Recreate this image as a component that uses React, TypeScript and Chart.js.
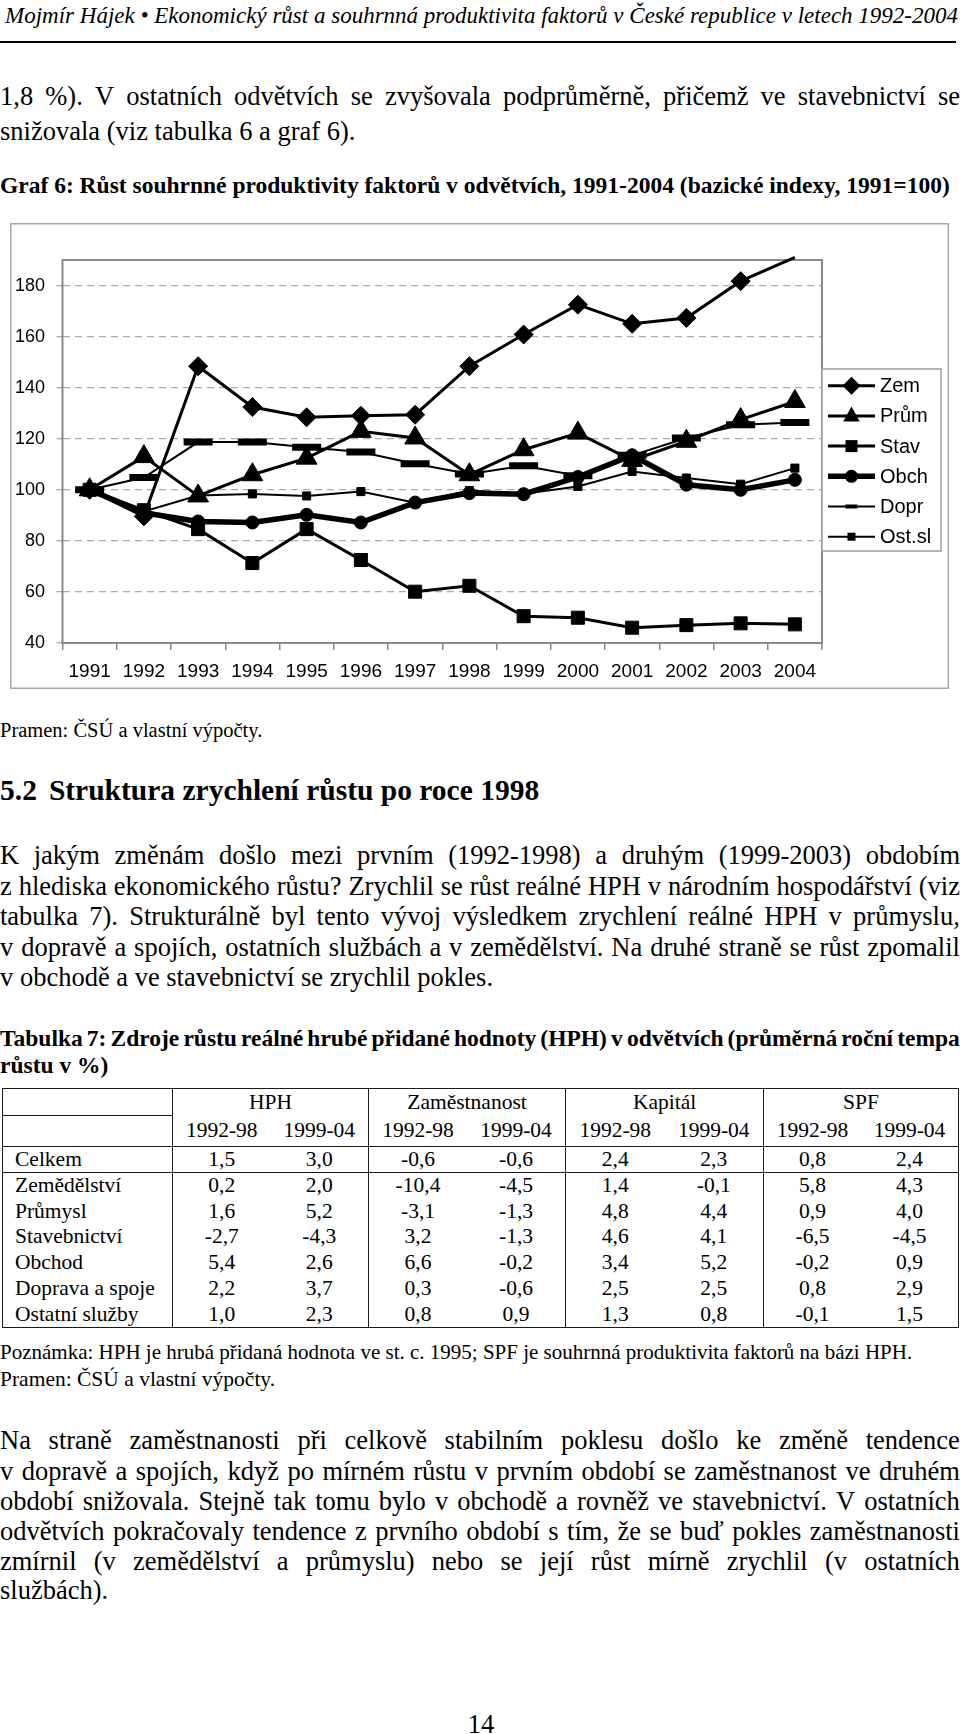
import React, { useEffect, useRef } from "react";
import { Chart, registerables } from "chart.js";

Chart.register(...registerables);

// ---------------- chart data ----------------
const YEARS = ["1991", "1992", "1993", "1994", "1995", "1996", "1997", "1998", "1999", "2000", "2001", "2002", "2003", "2004"];
const ZEM = [100, 89.6, 148.4, 132.4, 128.4, 129, 129.4, 148.4, 160.8, 172.5, 165, 167.3, 181.7, 191];
const PRUM = [100, 113, 97.6, 105.9, 112.4, 122.9, 120.3, 105.9, 115.7, 122.2, 111.5, 119, 127.5, 134.6];
const STAV = [100, 92, 84.6, 71.3, 84.6, 72.5, 60.1, 62.4, 50.5, 49.9, 46, 47, 47.7, 47.3];
const OBCH = [100, 91, 87.6, 87.2, 90.2, 87.2, 95, 98.7, 98.3, 105, 113.5, 102, 100, 103.9];
const DOPR = [100, 104.8, 118.7, 118.7, 116.7, 114.8, 110.2, 106.2, 109.4, 105.5, 113.5, 120.3, 125.5, 126.4];
const OSTSL = [100, 91.5, 97.8, 98.4, 97.6, 99.3, 94.9, 99.7, 98.5, 101.3, 107.2, 104.6, 102.2, 108.5];
const SERIES_NAMES = ["Zem", "Prům", "Stav", "Obch", "Dopr", "Ost.sl"];
const Y_TICKS = [40, 60, 80, 100, 120, 140, 160, 180];
const Y_MIN = 40;
const Y_MAX = 190;

// ---------------- table data ----------------
const TABLE_GROUPS = ["HPH", "Zaměstnanost", "Kapitál", "SPF"];
const TABLE_PERIODS = ["1992-98", "1999-04"];
const ROW_LABELS = ["Celkem", "Zemědělství", "Průmysl", "Stavebnictví", "Obchod", "Doprava a spoje", "Ostatní služby"];
const ROW_CELKEM = ["1,5", "3,0", "-0,6", "-0,6", "2,4", "2,3", "0,8", "2,4"];
const ROW_ZEMED = ["0,2", "2,0", "-10,4", "-4,5", "1,4", "-0,1", "5,8", "4,3"];
const ROW_PRUM = ["1,6", "5,2", "-3,1", "-1,3", "4,8", "4,4", "0,9", "4,0"];
const ROW_STAV = ["-2,7", "-4,3", "3,2", "-1,3", "4,6", "4,1", "-6,5", "-4,5"];
const ROW_OBCH = ["5,4", "2,6", "6,6", "-0,2", "3,4", "5,2", "-0,2", "0,9"];
const ROW_DOPR = ["2,2", "3,7", "0,3", "-0,6", "2,5", "2,5", "0,8", "2,9"];
const ROW_OST = ["1,0", "2,3", "0,8", "0,9", "1,3", "0,8", "-0,1", "1,5"];
const TABLE_ROWS = [ROW_CELKEM, ROW_ZEMED, ROW_PRUM, ROW_STAV, ROW_OBCH, ROW_DOPR, ROW_OST];

const SANS = '"Liberation Sans", Arial, Helvetica, sans-serif';
const SERIF = '"Liberation Serif", "Times New Roman", Times, serif';

type Marker = { style: string; size: number; lw: number };
const LEGEND_MARKERS: Marker[] = [
  { style: "rectRot", size: 9, lw: 3 },
  { style: "triangle", size: 9.5, lw: 3 },
  { style: "rect", size: 6, lw: 3 },
  { style: "circle", size: 6.5, lw: 5.5 },
  { style: "line", size: 6, lw: 2 },
  { style: "rect", size: 4, lw: 2 },
];

function drawLegendMarker(ctx: CanvasRenderingContext2D, m: Marker, x: number, y: number) {
  ctx.fillStyle = "#000";
  ctx.beginPath();
  const s = m.size;
  if (m.style === "rectRot") {
    ctx.moveTo(x - s, y); ctx.lineTo(x, y - s); ctx.lineTo(x + s, y); ctx.lineTo(x, y + s); ctx.closePath(); ctx.fill();
  } else if (m.style === "triangle") {
    ctx.moveTo(x, y - s); ctx.lineTo(x + s * 0.87, y + s * 0.6); ctx.lineTo(x - s * 0.87, y + s * 0.6); ctx.closePath(); ctx.fill();
  } else if (m.style === "rect") {
    ctx.rect(x - s, y - s, 2 * s, 2 * s); ctx.fill();
  } else if (m.style === "circle") {
    ctx.arc(x, y, s, 0, Math.PI * 2); ctx.fill();
  } else if (m.style === "line") {
    ctx.rect(x - s, y - 2, 2 * s, 4); ctx.fill();
  }
}

const framePlugin = {
  id: "frameAndLegend",
  beforeDraw(chart: any) {
    const { ctx, width, height } = chart;
    ctx.save();
    ctx.fillStyle = "#fff";
    ctx.fillRect(0, 0, width, height);
    ctx.restore();
  },
  beforeDatasetsDraw(chart: any) {
    const { ctx, chartArea: a } = chart;
    ctx.save();
    ctx.strokeStyle = "#8a8a8a";
    ctx.lineWidth = 2;
    ctx.strokeRect(a.left, a.top, a.right - a.left, a.bottom - a.top);
    ctx.restore();
  },
  afterDraw(chart: any) {
    const { ctx, width, height, chartArea: a } = chart;
    ctx.save();
    ctx.strokeStyle = "#a8a8a8";
    ctx.lineWidth = 1.5;
    ctx.strokeRect(0.75, 0.75, width - 1.5, height - 1.5);
    // legend
    const lx = a.right, ly = 146, lw = 119, lh = 182;
    ctx.fillStyle = "#fff";
    ctx.fillRect(lx, ly, lw, lh);
    ctx.strokeStyle = "#a0a0a0";
    ctx.lineWidth = 1.5;
    ctx.strokeRect(lx, ly, lw, lh);
    ctx.font = `20px ${SANS}`;
    ctx.textBaseline = "middle";
    ctx.textAlign = "left";
    SERIES_NAMES.forEach((name, i) => {
      const y = ly + 16.7 + i * 30.2;
      const m = LEGEND_MARKERS[i];
      ctx.strokeStyle = "#000";
      ctx.lineWidth = m.lw;
      ctx.beginPath();
      ctx.moveTo(lx + 6, y);
      ctx.lineTo(lx + 53, y);
      ctx.stroke();
      drawLegendMarker(ctx, m, lx + 29.5, y);
      ctx.fillStyle = "#000";
      ctx.fillText(name, lx + 58, y + 1);
    });
    ctx.restore();
  },
};

function hideOutOfRange(r: number) {
  return (c: any) => (c.raw > Y_MAX || c.raw < Y_MIN ? 0 : r);
}

function ChartBox() {
  const ref = useRef<HTMLCanvasElement>(null);
  useEffect(() => {
    const common = { borderColor: "#000", backgroundColor: "#000", pointBackgroundColor: "#000", pointBorderColor: "#000", tension: 0, fill: false, clip: 4 };
    const chart = new Chart(ref.current as HTMLCanvasElement, {
      type: "line",
      data: {
        labels: YEARS,
        datasets: [
          { ...common, label: SERIES_NAMES[0], data: ZEM, borderWidth: 3, pointStyle: "rectRot", pointRadius: hideOutOfRange(9.5), pointBorderWidth: 1 },
          { ...common, label: SERIES_NAMES[1], data: PRUM, borderWidth: 3, pointStyle: "triangle", pointRadius: hideOutOfRange(12), pointBorderWidth: 1 },
          { ...common, label: SERIES_NAMES[2], data: STAV, borderWidth: 3, pointStyle: "rect", pointRadius: hideOutOfRange(9.2), pointBorderWidth: 1 },
          { ...common, label: SERIES_NAMES[3], data: OBCH, borderWidth: 5.5, pointStyle: "circle", pointRadius: hideOutOfRange(6.5), pointBorderWidth: 1 },
          { ...common, label: SERIES_NAMES[4], data: DOPR, borderWidth: 2, pointStyle: "line", pointRadius: hideOutOfRange(14.5), pointBorderWidth: 7 },
          { ...common, label: SERIES_NAMES[5], data: OSTSL, borderWidth: 2, pointStyle: "rect", pointRadius: hideOutOfRange(5.7), pointBorderWidth: 1 },
        ] as any,
      },
      options: {
        animation: false,
        responsive: false,
        devicePixelRatio: 1,
        events: [],
        layout: { padding: { left: 0, top: 37, right: 127, bottom: 0 }, autoPadding: false } as any,
        plugins: { legend: { display: false }, tooltip: { enabled: false }, title: { display: false } },
        scales: {
          x: {
            type: "category",
            offset: true,
            grid: { offset: true, drawOnChartArea: false, drawTicks: true, tickLength: 7, color: "#8a8a8a", lineWidth: 1.5 },
            border: { display: false },
            ticks: { autoSkip: false, maxRotation: 0, minRotation: 0, padding: 10.5, color: "#000", font: { family: SANS, size: 19 } },
            afterFit: (s: any) => { s.height = 46; },
          },
          y: {
            type: "linear",
            min: Y_MIN,
            max: Y_MAX,
            grid: { color: "#ababab", lineWidth: 1.3, tickLength: 6, drawTicks: true, tickColor: "#ababab" },
            border: { display: false, dash: [7, 5] },
            ticks: { padding: 11.5, color: "#000", font: { family: SANS, size: 18 } },
            afterBuildTicks: (s: any) => { s.ticks = Y_TICKS.map((v) => ({ value: v })); },
            afterFit: (s: any) => { s.width = 52.5; },
          },
        },
      } as any,
      plugins: [framePlugin],
    });
    return () => chart.destroy();
  }, []);
  return <canvas ref={ref} width={939} height={466} style={{ position: "absolute", left: 10, top: 223, width: 939, height: 466 }} />;
}

// --------------- text helpers ---------------
type LineProps = { y: number; size: number; bold?: boolean; italic?: boolean; justify?: boolean; left?: number; width?: number; align?: "left" | "right" | "center"; text: string };

function TextLine({ y, size, bold, italic, justify, left = 0, width = 960, align = "left", text }: LineProps) {
  const h = Math.round(size * 1.3);
  const base: React.CSSProperties = {
    position: "absolute",
    left,
    top: y - h / 2,
    width,
    height: h,
    lineHeight: `${h}px`,
    fontSize: size,
    fontWeight: bold ? 700 : 400,
    fontStyle: italic ? "italic" : "normal",
    whiteSpace: "nowrap",
  };
  if (justify) {
    const words = text.split(" ");
    return (
      <div style={{ ...base, display: "flex", justifyContent: "space-between" }}>
        {words.map((w, i) => (
          <span key={i}>{w}</span>
        ))}
      </div>
    );
  }
  return <div style={{ ...base, textAlign: align }}>{text}</div>;
}

function Paragraph({ lines, ys, size }: { lines: string[]; ys: number[]; size: number }) {
  return (
    <>
      {lines.map((t, i) => (
        <TextLine key={i} y={ys[i]} size={size} text={t} justify={i < lines.length - 1} />
      ))}
    </>
  );
}

const BODY = 26.5;

const COL_W = [170, 98, 98, 98.5, 98.5, 99, 99, 97.5, 97.5];

function DataTable() {
  const bc = "#1a1a1a";
  const outer = `1.5px solid ${bc}`;
  const inner = `1px solid ${bc}`;
  const cell = (extra: React.CSSProperties = {}): React.CSSProperties => ({ padding: 0, textAlign: "center", verticalAlign: "middle", ...extra });
  const dataRowH = 25.8;
  return (
    <table
      style={{
        position: "absolute",
        left: 2,
        top: 1088,
        width: 956,
        borderCollapse: "collapse",
        tableLayout: "fixed",
        fontFamily: SERIF,
        fontSize: 21.5,
        border: outer,
      }}
    >
      <colgroup>
        {COL_W.map((w, i) => (
          <col key={i} style={{ width: w }} />
        ))}
      </colgroup>
      <tbody>
        <tr style={{ height: 27 }}>
          <td style={cell({ borderBottom: inner, borderRight: inner })}></td>
          {TABLE_GROUPS.map((g) => (
            <td key={g} colSpan={2} style={cell({ borderLeft: inner })}>{g}</td>
          ))}
        </tr>
        <tr style={{ height: 31 }}>
          <td style={cell({ borderRight: inner, borderBottom: inner })}></td>
          {TABLE_GROUPS.map((g) =>
            TABLE_PERIODS.map((p, pi) => (
              <td key={g + p} style={cell({ borderBottom: inner, borderLeft: pi === 0 ? inner : "none" })}>{p}</td>
            ))
          )}
        </tr>
        {TABLE_ROWS.map((row, ri) => (
          <tr key={ri} style={{ height: ri === 0 ? 22 : dataRowH }}>
            <td style={cell({ textAlign: "left", paddingLeft: 12, borderRight: inner, borderBottom: ri === 0 ? inner : "none" })}>{ROW_LABELS[ri]}</td>
            {row.map((v, ci) => (
              <td key={ci} style={cell({ borderLeft: ci % 2 === 0 ? inner : "none", borderBottom: ri === 0 ? inner : "none" })}>{v}</td>
            ))}
          </tr>
        ))}
      </tbody>
    </table>
  );
}

export default function App() {
  useEffect(() => {
    document.body.style.margin = "0";
    document.body.style.overflow = "hidden";
  }, []);
  return (
    <div style={{ position: "absolute", left: 0, top: 0, width: 960, height: 1734, overflow: "hidden", background: "#fff", color: "#000", fontFamily: SERIF }}>
      <TextLine y={16} size={23} italic left={0} width={958} align="right" text="Mojmír Hájek • Ekonomický růst a souhrnná produktivita faktorů v České republice v letech 1992-2004" />
      <div style={{ position: "absolute", left: 0, top: 41, width: 956, height: 2, background: "#000" }} />

      <Paragraph
        size={BODY}
        ys={[96, 131]}
        lines={["1,8 %). V ostatních odvětvích se zvyšovala podprůměrně, přičemž ve stavebnictví se", "snižovala (viz tabulka 6 a graf 6)."]}
      />

      <TextLine y={185} size={23.5} bold text="Graf 6: Růst souhrnné produktivity faktorů v odvětvích, 1991-2004 (bazické indexy, 1991=100)" />

      <ChartBox />

      <TextLine y={730} size={20.5} text="Pramen: ČSÚ a vlastní výpočty." />

      <div style={{ position: "absolute", left: 0, top: 790 - 19, height: 38, lineHeight: "38px", fontSize: 29.5, fontWeight: 700, whiteSpace: "nowrap" }}>
        <span style={{ marginRight: 12 }}>5.2</span>Struktura zrychlení růstu po roce 1998
      </div>

      <Paragraph
        size={BODY}
        ys={[855, 885.5, 916, 946.5, 977]}
        lines={[
          "K jakým změnám došlo mezi prvním (1992-1998) a druhým (1999-2003) obdobím",
          "z hlediska ekonomického růstu? Zrychlil se růst reálné HPH v národním hospodářství (viz",
          "tabulka 7). Strukturálně byl tento vývoj výsledkem zrychlení reálné HPH v průmyslu,",
          "v dopravě a spojích, ostatních službách a v zemědělství. Na druhé straně se růst zpomalil",
          "v obchodě a ve stavebnictví se zrychlil pokles.",
        ]}
      />

      <TextLine y={1038} size={23.5} bold justify text="Tabulka 7: Zdroje růstu reálné hrubé přidané hodnoty (HPH) v odvětvích (průměrná roční tempa" />
      <TextLine y={1065} size={23.5} bold text="růstu v %)" />

      <DataTable />

      <TextLine y={1352} size={21} text="Poznámka: HPH je hrubá přidaná hodnota ve st. c. 1995; SPF je souhrnná produktivita faktorů na bázi HPH." />
      <TextLine y={1379} size={21.5} text="Pramen: ČSÚ a vlastní výpočty." />

      <Paragraph
        size={BODY}
        ys={[1440, 1470.5, 1500.5, 1530.5, 1560.5, 1590]}
        lines={[
          "Na straně zaměstnanosti při celkově stabilním poklesu došlo ke změně tendence",
          "v dopravě a spojích, když po mírném růstu v prvním období se zaměstnanost ve druhém",
          "období snižovala. Stejně tak tomu bylo v obchodě a rovněž ve stavebnictví. V ostatních",
          "odvětvích pokračovaly tendence z prvního období s tím, že se buď pokles zaměstnanosti",
          "zmírnil (v zemědělství a průmyslu) nebo se její růst mírně zrychlil (v ostatních",
          "službách).",
        ]}
      />

      <TextLine y={1724} size={26.5} left={0} width={962} align="center" text="14" />
    </div>
  );
}
